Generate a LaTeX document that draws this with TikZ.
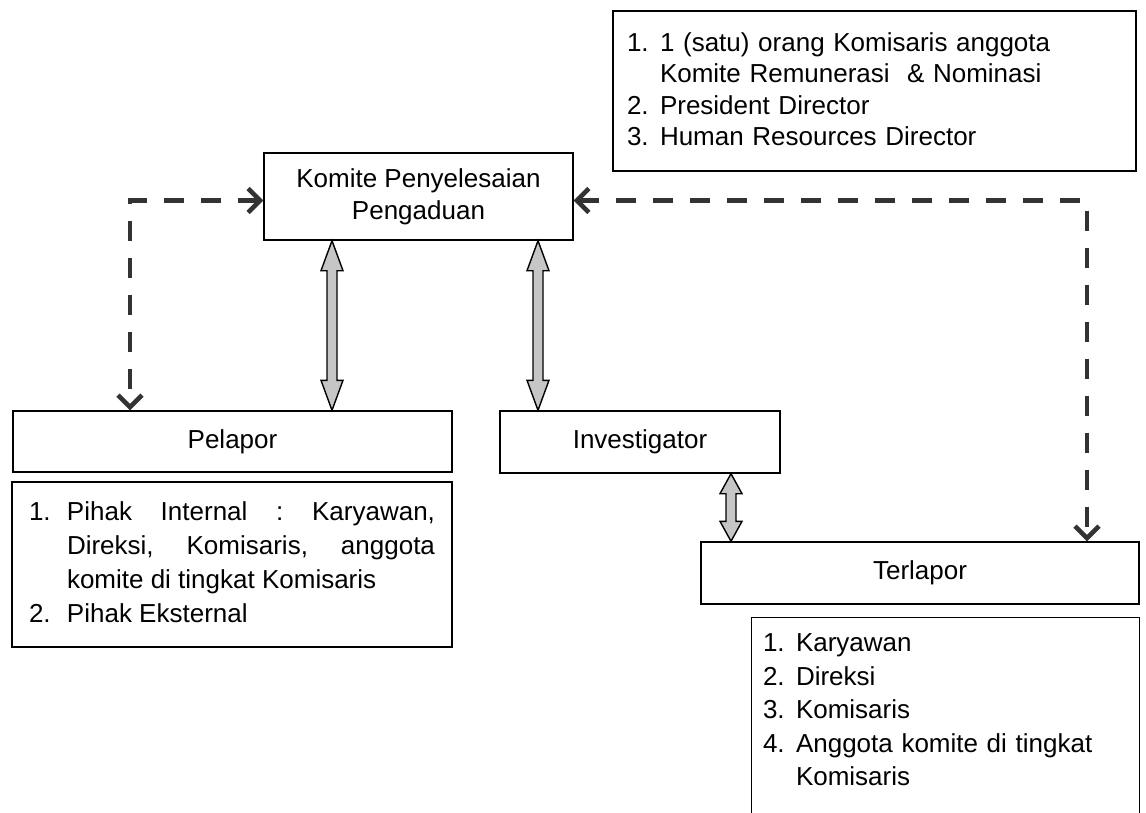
\documentclass[tikz,border=0pt]{standalone}
\usepackage{fontspec}
\setmainfont{Liberation Sans}
\usepackage{tikz}
\usetikzlibrary{arrows.meta,calc}
\frenchspacing

% numbered item with hanging indent
\newcommand{\numitem}[3][40pt]{\par\hangindent=#1\hangafter=1\noindent\makebox[#1][l]{#2}#3\par}

% grey double arrow between two points on one vertical
\newcommand{\fatarrow}[3][30pt]{%
  \draw[kpp fat] let \p1=#2, \p2=#3 in
    (\x1,\y1) -- (\x1+11pt,\y1-#1) -- (\x1+5pt,\y1-#1) -- (\x1+5pt,\y2+#1)
    -- (\x1+11pt,\y2+#1) -- (\x1,\y2) -- (\x1-11pt,\y2+#1) -- (\x1-5pt,\y2+#1)
    -- (\x1-5pt,\y1-#1) -- (\x1-11pt,\y1-#1) -- cycle;}

\begin{document}
\begin{tikzpicture}[x=1pt, y=-1pt,
    kpp block/.style={rectangle, draw, line width=1.4pt, inner sep=0pt, align=center,
        font=\fontsize{26}{32}\selectfont},
    kpp list/.style={rectangle, line width=1.4pt, inner xsep=20pt, inner ysep=0pt,
        font=\fontsize{26}{34}\selectfont},
    kpp dash/.style={{Straight Barb[length=12pt,width=24pt]}-{Straight Barb[length=12pt,width=24pt]},
        line width=4.5pt, dash pattern=on 20pt off 17pt, draw=black!80},
    kpp fat/.style={draw, line width=1.4pt, fill=gray!45, line join=miter}]

    \path[use as bounding box, fill=white] (0,0) rectangle (1146,813);

    \node [kpp list, draw, text width=495pt, inner xsep=14pt, minimum height=160pt, align=left,
        font=\fontsize{26}{31.3}\selectfont] (anggota) at (874.5,91)
        {\numitem[33pt]{1.}{1 (satu) orang Komisaris anggota\newline Komite Remunerasi~~\& Nominasi}%
         \numitem[33pt]{2.}{President Director}%
         \numitem[33pt]{3.}{Human Resources Director}\kern16pt};

    \node [kpp block, minimum width=309pt, minimum height=87pt] (komite) at (418.5,196.5)
        {Komite Penyelesaian\\Pengaduan};

    \node [kpp block, minimum width=439pt, minimum height=61pt] (pelapor) at (232.5,441.5) {Pelapor};
    \node [kpp block, minimum width=280pt, minimum height=62pt] (invest) at (640,442) {Investigator};
    \node [kpp block, minimum width=438pt, minimum height=62pt] (terlapor) at (920,573) {Terlapor};

    \node [kpp list, draw, text width=406pt, inner xsep=17pt, minimum height=165pt, align=justify,
        font=\fontsize{26}{34.3}\selectfont] (plist) at (232,564.5)
        {\numitem[38pt]{1.}{Pihak Internal : Karyawan,\linebreak Direksi, Komisaris, anggota\linebreak komite di tingkat Komisaris}%
         \numitem[38pt]{2.}{Pihak Eksternal}\kern20pt};

    \node [kpp list, text width=365pt, inner xsep=11pt, minimum height=194pt, align=left,
        font=\fontsize{26}{33.5}\selectfont] (tlist) at (945.5,716)
        {\numitem[33pt]{1.}{Karyawan}%
         \numitem[33pt]{2.}{Direksi}%
         \numitem[33pt]{3.}{Komisaris}%
         \numitem[33pt]{4.}{Anggota komite di tingkat\newline Komisaris}\kern28pt};
    \draw [line width=1.4pt] (tlist.south west) -- (tlist.north west) -- (tlist.north east) -- (tlist.south east);

    \coordinate (a1) at (332,0);
    \coordinate (a2) at (538,0);
    \coordinate (a3) at (731,0);
    \fatarrow{(komite.south -| a1)}{(pelapor.north -| a1)}
    \fatarrow{(komite.south -| a2)}{(invest.north -| a2)}
    \fatarrow[20pt]{(invest.south -| a3)}{(terlapor.north -| a3)}

    \coordinate (dl) at (130,0);
    \coordinate (dr) at (1087,0);
    \draw [kpp dash] ([yshift=-4pt]komite.west) -| (pelapor.north -| dl);
    \draw [kpp dash] ([yshift=-4pt]komite.east) -| (terlapor.north -| dr);

\end{tikzpicture}
\end{document}
